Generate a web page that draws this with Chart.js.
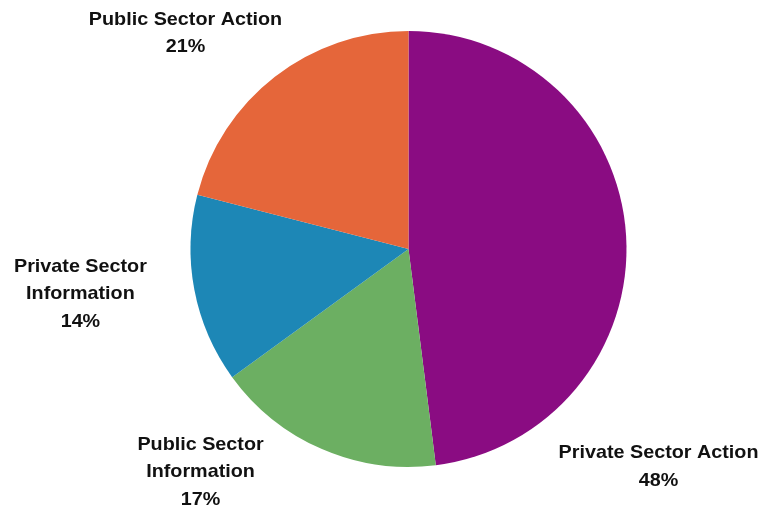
<!DOCTYPE html>
<html lang="en">
<head>
  <meta charset="UTF-8" />
  <title>Sector Action and Information Share</title>
  <script src="https://cdn.jsdelivr.net/npm/chart.js"></script>
  <style>
    html, body {
      margin: 0;
      padding: 0;
      background: #fff;
    }
    canvas {
      display: block;
    }
  </style>
</head>
<body>
  <canvas id="sectorPie" width="759" height="509"></canvas>

  <script>
    // slices go clockwise from 12 o'clock
    const categories = ['Private Sector Action', 'Public Sector Information', 'Private Sector Information', 'Public Sector Action'];
    const shares = [48, 17, 14, 21];
    const sliceColors = ['#8a0c82', '#6caf62', '#1d87b6', '#e5663a'];

    // where each label wraps
    const labelLines = [
      ['Private Sector Action'],
      ['Public Sector', 'Information'],
      ['Private Sector', 'Information'],
      ['Public Sector Action']
    ];
    // label block centres, in multiples of the pie radius from its centre
    const labelOffsets = [
      [1.147, 1.0],
      [-0.954, 1.022],
      [-1.505, 0.206],
      [-1.023, -0.99]
    ];

    const outsideLabels = {
      id: 'outsideLabels',
      afterDatasetsDraw(chart) {
        const ctx = chart.ctx;
        const meta = chart.getDatasetMeta(0);
        const values = chart.data.datasets[0].data;
        const total = values.reduce((a, b) => a + b, 0);
        const lineHeight = 27.5;

        ctx.save();
        ctx.fillStyle = '#111';
        ctx.font = 'bold 19px "Liberation Sans", Arial, sans-serif';
        ctx.textAlign = 'center';
        ctx.textBaseline = 'middle';

        meta.data.forEach((arc, i) => {
          const r = arc.outerRadius;
          const cx = arc.x + labelOffsets[i][0] * r;
          const cy = arc.y + labelOffsets[i][1] * r;
          const lines = labelLines[i].concat(Math.round(values[i] / total * 100) + '%');
          const top = cy - (lines.length - 1) * lineHeight / 2;
          lines.forEach((line, j) => {
            ctx.save();
            ctx.translate(cx, top + j * lineHeight);
            ctx.scale(1.04, 1);
            ctx.fillText(line, 0, 0);
            ctx.restore();
          });
        });
        ctx.restore();
      }
    };

    new Chart(document.getElementById('sectorPie'), {
      type: 'pie',
      data: {
        labels: categories,
        datasets: [{
          data: shares,
          backgroundColor: sliceColors,
          borderWidth: 0
        }]
      },
      options: {
        responsive: false,
        animation: false,
        layout: { padding: { left: 190, right: 132, top: 31, bottom: 42 } },
        plugins: {
          legend: { display: false },
          tooltip: { enabled: false }
        }
      },
      plugins: [outsideLabels]
    });
  </script>
</body>
</html>
